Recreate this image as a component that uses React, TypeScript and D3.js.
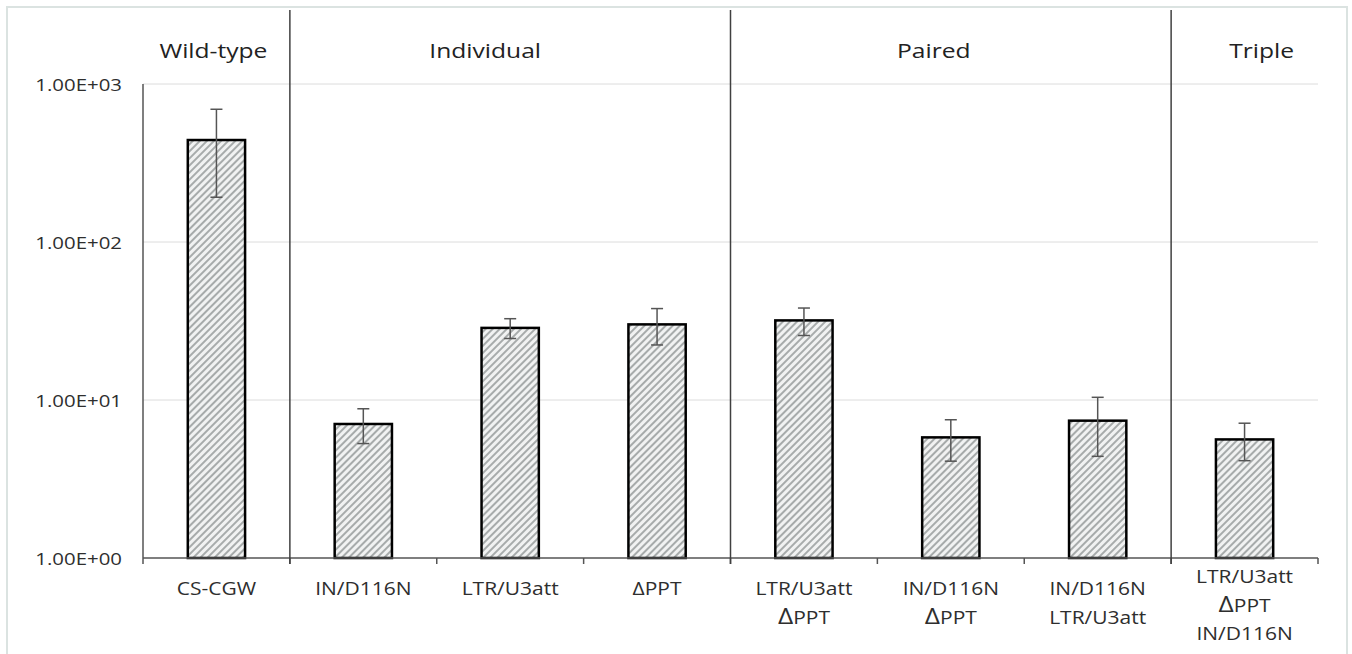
import * as d3 from 'd3';

// categories (one entry per bar, multi-line labels split into lines)
const categories: string[][] = [
  ['CS-CGW'],
  ['IN/D116N'],
  ['LTR/U3att'],
  ['ΔPPT'],
  ['LTR/U3att', 'ΔPPT'],
  ['IN/D116N', 'ΔPPT'],
  ['IN/D116N', 'LTR/U3att'],
  ['LTR/U3att', 'ΔPPT', 'IN/D116N'],
];
const values = [442, 7.05, 28.6, 30.1, 31.9, 5.8, 7.4, 5.63];
const errors = [250, 1.75, 4.1, 7.8, 6.3, 1.7, 3.0, 1.5];

const groupNames = ['Wild-type', 'Individual', 'Paired', 'Triple'];
const groupSizes = [1, 3, 3, 1];

const yTicks = [1, 10, 100, 1000];
const yTickLabels = ['1.00E+00', '1.00E+01', '1.00E+02', '1.00E+03'];

const WIDTH = 1352;
const HEIGHT = 654;
const margin = { left: 143, right: 1318, top: 84, bottom: 558 };
const TEXT_SX = 1.2; // source image is stretched horizontally
const FONT = '"Open Sans", "Liberation Sans", sans-serif';
const TEXT_COLOR = '#2e2e2e';
const GROUP_TITLE_NUDGE = [-3, -25, -17, 17];

export default function App() {
  const keys = categories.map((_, i) => String(i));
  const x = d3
    .scaleBand<string>()
    .domain(keys)
    .range([margin.left, margin.right])
    .paddingInner(0.61)
    .paddingOuter(0.305);
  const y = d3.scaleLog().domain([1, 1000]).range([margin.bottom, margin.top]);
  const step = x.step();
  const bw = x.bandwidth();
  const boundaries = d3.range(categories.length + 1).map((i) => margin.left + i * step);

  const groupStart = [0, ...Array.from(d3.cumsum(groupSizes))];

  const sText = (tx: number, ty: number) => `translate(${tx},${ty}) scale(${TEXT_SX},1)`;

  return (
    <div style={{ position: 'fixed', left: 0, top: 0, background: '#fff' }}>
      <svg width={WIDTH} height={HEIGHT} style={{ display: 'block' }} fontFamily={FONT}>
        <defs>
          <pattern
            id="hatch"
            patternUnits="userSpaceOnUse"
            width={5}
            height={5}
            patternTransform="rotate(45)"
          >
            <rect width={5} height={5} fill="#f1f2f2" />
            <line x1={1} y1={0} x2={1} y2={5} stroke="#7f8585" strokeWidth={1.3} />
          </pattern>
        </defs>
        <rect x={0} y={0} width={WIDTH} height={HEIGHT} fill="#fff" />
        <rect
          x={7}
          y={7}
          width={1340}
          height={660}
          fill="none"
          stroke="#dbe3e1"
          strokeWidth={2}
        />

        {/* gridlines */}
        {yTicks.slice(1).map((t) => (
          <line
            key={t}
            x1={margin.left}
            x2={margin.right}
            y1={y(t)}
            y2={y(t)}
            stroke="#dcdcdc"
            strokeWidth={1}
          />
        ))}

        {/* y tick labels */}
        {yTicks.map((t, i) => (
          <text
            key={t}
            transform={sText(122, y(t))}
            textAnchor="end"
            dominantBaseline="central"
            fontSize={17}
            fill={TEXT_COLOR}
          >
            {yTickLabels[i]}
          </text>
        ))}

        {/* bars */}
        {values.map((v, i) => (
          <rect
            key={i}
            x={x(String(i))!}
            y={y(v)}
            width={bw}
            height={y(1) - y(v)}
            fill="url(#hatch)"
            stroke="#000"
            strokeWidth={2.5}
          />
        ))}

        {/* error bars */}
        {values.map((v, i) => {
          const cx = x(String(i))! + bw / 2;
          const top = y(v + errors[i]);
          const bot = y(Math.max(v - errors[i], 1));
          return (
            <g key={i} stroke="#555" strokeWidth={1.5}>
              <line x1={cx} x2={cx} y1={top} y2={bot} />
              <line x1={cx - 6} x2={cx + 6} y1={top} y2={top} />
              <line x1={cx - 6} x2={cx + 6} y1={bot} y2={bot} />
            </g>
          );
        })}

        {/* axes */}
        <line
          x1={margin.left}
          x2={margin.left}
          y1={margin.top}
          y2={margin.bottom}
          stroke="#555"
          strokeWidth={1.5}
        />
        <line
          x1={margin.left}
          x2={margin.right}
          y1={margin.bottom}
          y2={margin.bottom}
          stroke="#555"
          strokeWidth={1.5}
        />
        {boundaries.map((bx, i) => (
          <line
            key={i}
            x1={bx}
            x2={bx}
            y1={margin.bottom}
            y2={margin.bottom + 6}
            stroke="#555"
            strokeWidth={1.5}
          />
        ))}

        {/* group separators */}
        {groupStart.slice(1, -1).map((gi) => (
          <line
            key={gi}
            x1={boundaries[gi]}
            x2={boundaries[gi]}
            y1={10}
            y2={margin.bottom + 6}
            stroke="#404040"
            strokeWidth={1.5}
          />
        ))}

        {/* group titles */}
        {groupNames.map((g, gi) => {
          const cx = (boundaries[groupStart[gi]] + boundaries[groupStart[gi + 1]]) / 2;
          return (
            <text
              key={g}
              transform={sText(cx + GROUP_TITLE_NUDGE[gi], 58)}
              textAnchor="middle"
              fontSize={20.5}
              fill="#222"
            >
              {g}
            </text>
          );
        })}

        {/* category labels */}
        {categories.map((lines, i) => {
          const cx = x(String(i))! + bw / 2;
          const first = lines.length > 2 ? 583 : 595;
          return lines.map((ln, li) => {
            const big = lines.length > 1 && ln.startsWith('Δ');
            return (
              <text
                key={`${i}-${li}`}
                transform={sText(cx, first + li * 28.5)}
                textAnchor="middle"
                fontSize={17.5}
                fill={TEXT_COLOR}
              >
                {big ? (
                  <>
                    <tspan fontSize={22}>Δ</tspan>
                    {ln.slice(1)}
                  </>
                ) : (
                  ln
                )}
              </text>
            );
          });
        })}
      </svg>
    </div>
  );
}
